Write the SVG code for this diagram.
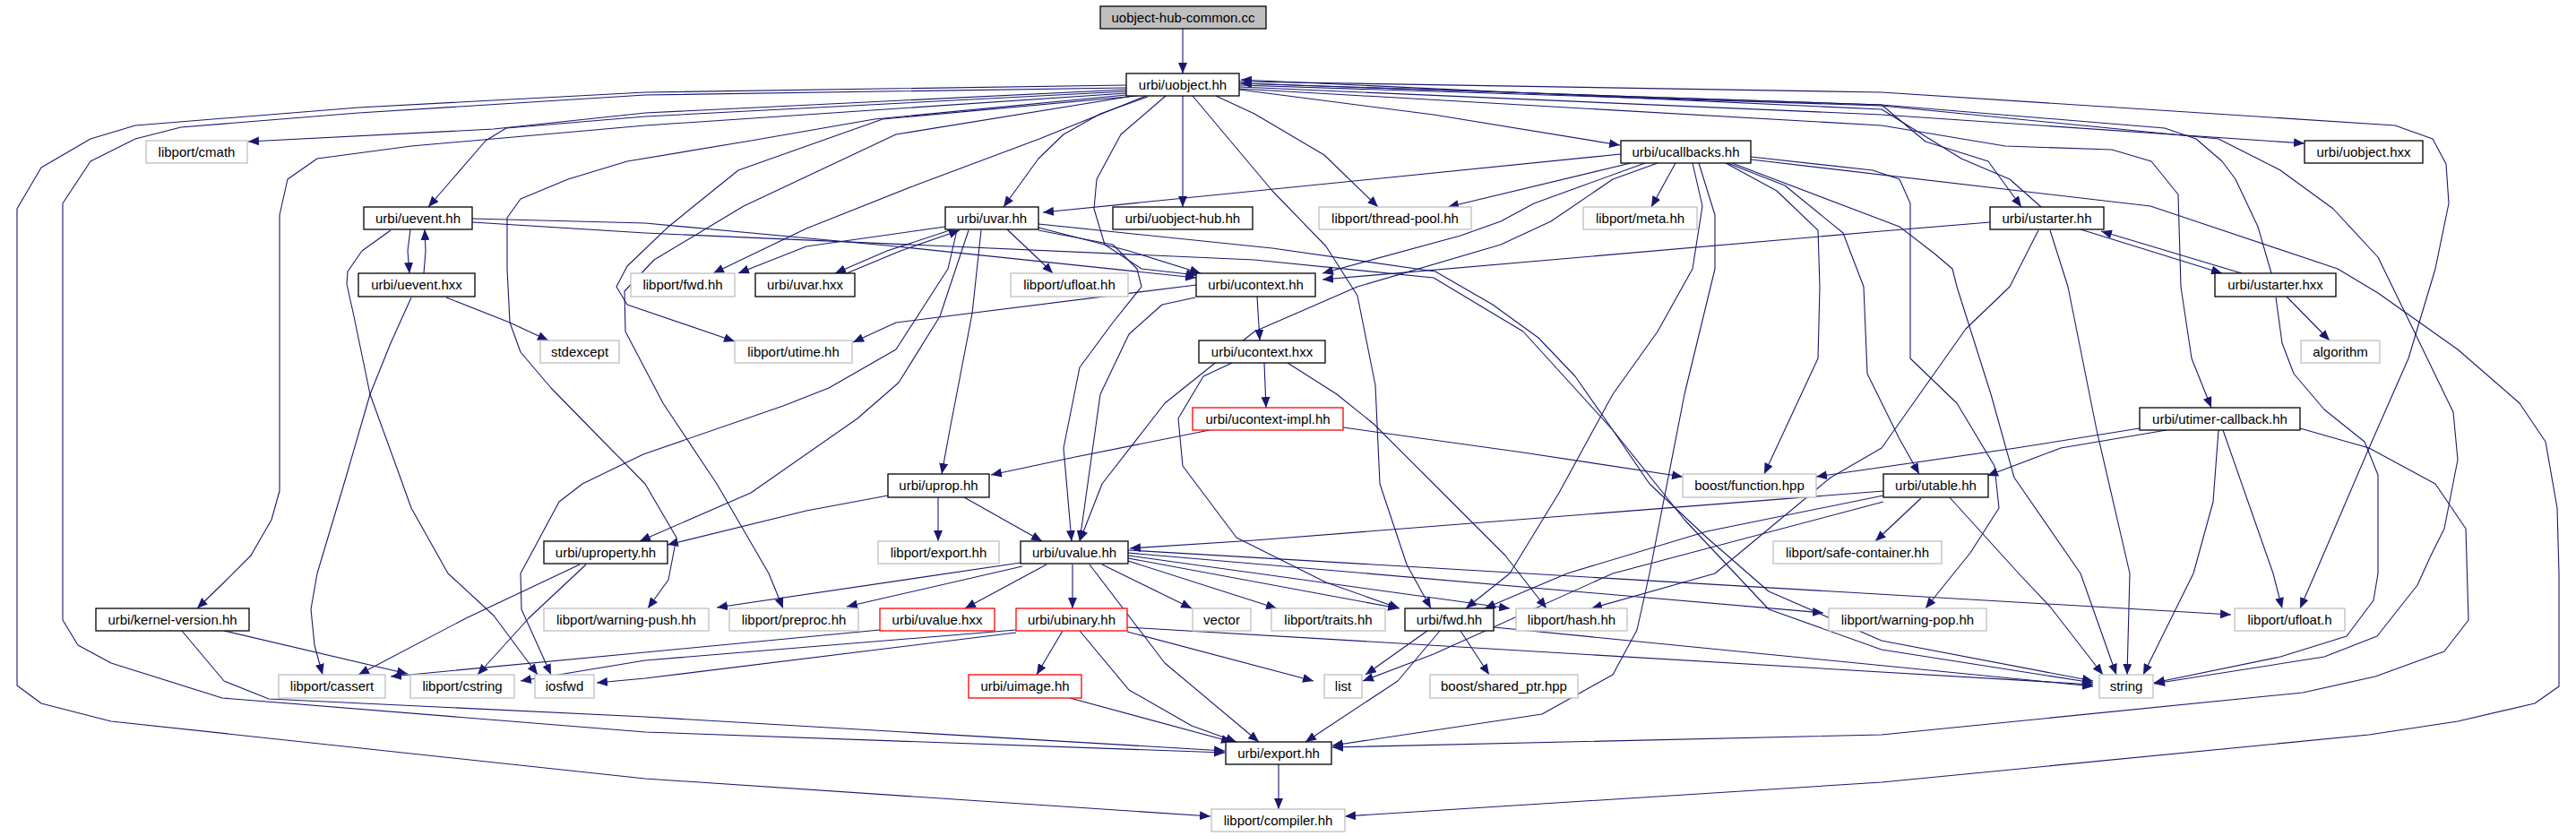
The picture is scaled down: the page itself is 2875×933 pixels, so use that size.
<svg xmlns="http://www.w3.org/2000/svg" width="2875" height="933" viewBox="0 0 2875 933">
<style>
.n rect{fill:#fff;stroke:#000;stroke-width:1.3}
.g rect{fill:#fff;stroke:#bfbfbf;stroke-width:1.3}
.r rect{fill:#fff;stroke:#ff0000;stroke-width:1.3}
.root rect{fill:#bfbfbf;stroke:#000;stroke-width:1.3}
text{font-family:"Liberation Sans",Arial,sans-serif;font-size:15px;fill:#000;text-anchor:middle}
#edges path{fill:none;stroke:#191970;stroke-width:1.1;stroke-linejoin:round;marker-end:url(#a)}
</style>
<defs>
<marker id="a" markerWidth="12" markerHeight="10" refX="12" refY="5" orient="auto" markerUnits="userSpaceOnUse"><path d="M0,0 L12,5 L0,10 z" fill="#191970"/></marker>
</defs>
<rect width="2875" height="933" fill="#fff"/>
<g id="edges">
<path d="M1320,32 L1320,82"/>
<path d="M1257,95 L720,103 L400,120 L151,140 L101,155 L46,187 L19,233 L19,765 L46,785 L124,805 L720,869 L1351,911"/>
<path d="M1257,98 L720,106 L400,126 L202,142 L151,155 L101,180 L70,227 L70,692 L87,720 L124,740 L248,779 L720,817 L1367,840"/>
<path d="M1257,100 L720,126 L551,144 L277,158"/>
<path d="M1257,102 L720,130 L565,143 L542,157 L478,231"/>
<path d="M1257,104 L720,140 L459,163 L354,177 L321,200 L312,240 L312,548 L303,580 L280,620 L250,650 L220,679"/>
<path d="M1257,106 L976,133 L838,157 L700,180 L634,200 L581,222 L566,243 L566,300 L569,360 L581,393 L615,433 L661,480 L720,540 L755,600 L746,647 L723,679"/>
<path d="M1269,107 L985,133 L824,190 L746,253 L700,297 L688,320 L700,340 L820,381"/>
<path d="M1265,107 L1000,150 L830,230 L730,290 L697,325 L698,370 L740,450 L800,540 L858,640 L874,679"/>
<path d="M1279,107 L1160,155 L1021,207 L900,255 L796,305"/>
<path d="M1281,108 L1228,127 L1187,150 L1159,177 L1120,231"/>
<path d="M1301,107 L1251,150 L1224,200 L1221,233 L1233,273 L1274,300 L1336,307"/>
<path d="M1320,107 L1320,231"/>
<path d="M1331,107 L1420,213 L1480,275 L1515,330 L1535,430 L1540,540 L1570,630 L1597,679"/>
<path d="M1357,107 L1400,127 L1478,173 L1538,231"/>
<path d="M1383,100 L1600,128 L1808,162"/>
<path d="M1383,97 L2100,128 L2572,160"/>
<path d="M1383,93 L2100,117 L2149,158 L2219,180 L2256,231"/>
<path d="M1383,99 L2100,140 L2238,163 L2357,167 L2401,180 L2431,217 L2434,320 L2446,400 L2468,455"/>
<path d="M1383,91 L2100,103 L2673,140 L2715,155 L2730,183 L2733,227 L2718,300 L2688,400 L2644,500 L2584,640 L2567,679"/>
<path d="M1383,95 L2100,118 L2476,155 L2545,190 L2604,233 L2654,287 L2693,367 L2738,460 L2743,513 L2728,590 L2713,620 L2698,653 L2653,710 L2594,733 L2404,763"/>
<path d="M458,256 L455,280 L457,305"/>
<path d="M473,305 L475,280 L474,256"/>
<path d="M527,244 L720,249 L1000,275 L1335,310"/>
<path d="M527,248 L720,260 L1400,290 L1600,310 L1700,370 L1800,480 L1880,580 L1974,680 L2100,725 L2336,762"/>
<path d="M436,257 L404,280 L388,303 L387,317 L395,353 L413,440 L441,517 L459,567 L500,640 L551,687 L600,753"/>
<path d="M498,332 L569,360 L612,380"/>
<path d="M459,332 L436,383 L413,440 L386,533 L354,640 L347,680 L351,720 L360,753"/>
<path d="M1055,253 L900,275 L824,305"/>
<path d="M1060,257 L990,280 L932,305"/>
<path d="M945,305 L1005,280 L1071,257"/>
<path d="M1124,256 L1160,290 L1175,305"/>
<path d="M1159,254 L1260,280 L1340,305"/>
<path d="M1095,257 L1085,350 L1060,480 L1051,529"/>
<path d="M1081,257 L1049,353 L1003,427 L957,467 L838,550 L714,604"/>
<path d="M1068,257 L1058,300 L1000,390 L925,433 L874,453 L718,507 L650,540 L624,560 L581,640 L582,680 L615,753"/>
<path d="M1159,257 L1242,273 L1269,300 L1274,320 L1242,360 L1205,410 L1187,500 L1196,604"/>
<path d="M1159,250 L1420,277 L1602,303 L1666,340 L1717,377 L1758,420 L1800,480 L1841,540 L1905,600 L1974,660 L2100,715 L2336,760"/>
<path d="M1403,331 L1406,380"/>
<path d="M1335,318 L1000,360 L952,382"/>
<path d="M1334,332 L1297,340 L1260,373 L1228,440 L1205,604"/>
<path d="M1375,405 L1343,420 L1315,467 L1320,520 L1380,600 L1480,650 L1562,679"/>
<path d="M1411,405 L1413,455"/>
<path d="M1437,405 L1492,440 L1533,473 L1600,540 L1680,620 L1726,679"/>
<path d="M1350,480 L1200,510 L1106,530"/>
<path d="M1499,477 L1700,505 L1878,532"/>
<path d="M991,553 L900,570 L745,608"/>
<path d="M1047,555 L1047,604"/>
<path d="M1076,555 L1163,604"/>
<path d="M647,630 L520,690 L400,753"/>
<path d="M654,630 L590,690 L533,753"/>
<path d="M1139,628 L800,678"/>
<path d="M1141,632 L945,677"/>
<path d="M1168,630 L1077,679"/>
<path d="M1197,630 L1197,679"/>
<path d="M1230,630 L1330,679"/>
<path d="M1259,626 L1425,679"/>
<path d="M1259,623 L1561,679"/>
<path d="M1259,620 L1685,679"/>
<path d="M1259,617 L2035,684"/>
<path d="M1259,614 L2490,686"/>
<path d="M1216,630 L1300,740 L1405,828"/>
<path d="M1186,704 L1157,753"/>
<path d="M1205,704 L1260,770 L1330,810 L1380,828"/>
<path d="M1134,703 L720,737 L581,760"/>
<path d="M1134,706 L720,757 L666,762"/>
<path d="M1258,705 L1466,760"/>
<path d="M1258,700 L2336,764"/>
<path d="M982,703 L720,728 L436,755"/>
<path d="M1194,779 L1375,828"/>
<path d="M1593,704 L1524,753"/>
<path d="M1630,704 L1662,753"/>
<path d="M1607,704 L1560,760 L1457,828"/>
<path d="M1667,700 L2336,766"/>
<path d="M1427,853 L1427,903"/>
<path d="M203,704 L250,760 L300,780 L720,800 L1367,838"/>
<path d="M250,704 L455,752"/>
<path d="M1809,172 L1164,237"/>
<path d="M1820,182 L1616,231"/>
<path d="M1870,182 L1843,231"/>
<path d="M1836,182 L1767,207 L1712,227 L1675,247 L1630,263 L1476,305"/>
<path d="M1850,182 L1800,200 L1731,247 L1675,273 L1515,320 L1400,370 L1300,450 L1230,540 L1205,604"/>
<path d="M1889,182 L1900,230 L1889,300 L1850,370 L1800,440 L1740,550 L1685,640 L1636,679"/>
<path d="M1896,182 L1914,240 L1914,300 L1880,440 L1841,640 L1827,703 L1800,753 L1721,797 L1487,832"/>
<path d="M1926,182 L1983,213 L2029,257 L2031,320 L2029,400 L1969,529"/>
<path d="M1928,182 L1992,207 L2057,260 L2080,320 L2084,417 L2120,490 L2142,529"/>
<path d="M1933,182 L2120,253 L2159,283 L2179,300 L2184,320 L2222,440 L2248,533 L2322,640 L2362,753"/>
<path d="M1954,175 L2090,190 L2120,200 L2132,227 L2132,400 L2184,450 L2226,520 L2231,567 L2199,617 L2149,679"/>
<path d="M1954,178 L2400,230 L2609,300 L2654,327 L2743,390 L2812,450 L2841,493 L2854,567 L2856,640 L2856,766 L2829,785 L2743,805 L2644,820 L2100,873 L1501,911"/>
<path d="M2278,231 L2243,200 L2189,177 L2100,122 L1385,89"/>
<path d="M2221,248 L2100,258 L1476,312"/>
<path d="M2322,256 L2480,305"/>
<path d="M2502,305 L2345,258"/>
<path d="M2288,257 L2308,320 L2340,480 L2377,640 L2374,753"/>
<path d="M2275,257 L2243,320 L2194,367 L2100,500 L2043,533 L1914,640 L1776,679"/>
<path d="M2552,331 L2600,380"/>
<path d="M2535,305 L2520,253 L2495,200 L2480,180 L2451,155 L2416,143 L2100,117 L1385,93"/>
<path d="M2540,332 L2547,383 L2560,417 L2594,457 L2639,493 L2654,530 L2654,640 L2649,670 L2619,710 L2545,733 L2404,762"/>
<path d="M2388,478 L2250,500 L2027,532"/>
<path d="M2418,480 L2300,500 L2218,531"/>
<path d="M2476,480 L2470,560 L2448,640 L2392,753"/>
<path d="M2481,480 L2537,640 L2547,679"/>
<path d="M2567,478 L2644,500 L2718,540 L2752,590 L2755,692 L2728,727 L2651,755 L2570,773 L2100,820 L1487,834"/>
<path d="M2102,548 L1400,603 L1261,612"/>
<path d="M2144,556 L2093,604"/>
<path d="M2102,553 L1905,593 L1749,640 L1657,679"/>
<path d="M2174,553 L2253,640 L2288,677 L2347,753"/>
<path d="M2102,560 L1800,640 L1600,730 L1521,760"/>
</g>
<g id="n-root" class="root"><rect x="1228" y="7" width="185" height="25"/><text x="1320.5" y="25">uobject-hub-common.cc</text></g>
<g id="n-uobject" class="n"><rect x="1257" y="82" width="126" height="25"/><text x="1320" y="100">urbi/uobject.hh</text></g>
<g id="n-cmath" class="g"><rect x="163" y="157" width="113" height="25"/><text x="219.5" y="175">libport/cmath</text></g>
<g id="n-ucallbacks" class="n"><rect x="1809" y="157" width="145" height="25"/><text x="1881.5" y="175">urbi/ucallbacks.hh</text></g>
<g id="n-uobjhxx" class="n"><rect x="2572" y="157" width="132" height="25"/><text x="2638" y="175">urbi/uobject.hxx</text></g>
<g id="n-uevent" class="n"><rect x="406" y="231" width="121" height="25"/><text x="466.5" y="249">urbi/uevent.hh</text></g>
<g id="n-uvar" class="n"><rect x="1055" y="231" width="104" height="25"/><text x="1107" y="249">urbi/uvar.hh</text></g>
<g id="n-uobjhub" class="n"><rect x="1242" y="231" width="156" height="25"/><text x="1320" y="249">urbi/uobject-hub.hh</text></g>
<g id="n-threadpool" class="g"><rect x="1472" y="231" width="170" height="25"/><text x="1557" y="249">libport/thread-pool.hh</text></g>
<g id="n-meta" class="g"><rect x="1767" y="231" width="127" height="25"/><text x="1830.5" y="249">libport/meta.hh</text></g>
<g id="n-ustarter" class="n"><rect x="2221" y="231" width="127" height="25"/><text x="2284.5" y="249">urbi/ustarter.hh</text></g>
<g id="n-ueventhxx" class="n"><rect x="400" y="305" width="130" height="26"/><text x="465" y="323">urbi/uevent.hxx</text></g>
<g id="n-lfwd" class="g"><rect x="704" y="305" width="116" height="26"/><text x="762" y="323">libport/fwd.hh</text></g>
<g id="n-uvarhxx" class="n"><rect x="843" y="305" width="111" height="26"/><text x="898.5" y="323">urbi/uvar.hxx</text></g>
<g id="n-ufloathh" class="g"><rect x="1128" y="305" width="131" height="26"/><text x="1193.5" y="323">libport/ufloat.hh</text></g>
<g id="n-ucontext" class="n"><rect x="1335" y="305" width="133" height="26"/><text x="1401.5" y="323">urbi/ucontext.hh</text></g>
<g id="n-ustarterhxx" class="n"><rect x="2472" y="305" width="135" height="26"/><text x="2539.5" y="323">urbi/ustarter.hxx</text></g>
<g id="n-stdexcept" class="g"><rect x="603" y="380" width="88" height="25"/><text x="647" y="398">stdexcept</text></g>
<g id="n-utime" class="g"><rect x="820" y="380" width="131" height="25"/><text x="885.5" y="398">libport/utime.hh</text></g>
<g id="n-ucontexthxx" class="n"><rect x="1338" y="380" width="141" height="25"/><text x="1408.5" y="398">urbi/ucontext.hxx</text></g>
<g id="n-algorithm" class="g"><rect x="2568" y="380" width="88" height="25"/><text x="2612" y="398">algorithm</text></g>
<g id="n-ucimpl" class="r"><rect x="1331" y="455" width="168" height="25"/><text x="1415" y="473">urbi/ucontext-impl.hh</text></g>
<g id="n-utimercb" class="n"><rect x="2388" y="455" width="179" height="25"/><text x="2477.5" y="473">urbi/utimer-callback.hh</text></g>
<g id="n-uprop" class="n"><rect x="991" y="529" width="113" height="26"/><text x="1047.5" y="547">urbi/uprop.hh</text></g>
<g id="n-function" class="g"><rect x="1878" y="529" width="149" height="26"/><text x="1952.5" y="547">boost/function.hpp</text></g>
<g id="n-utable" class="n"><rect x="2102" y="529" width="117" height="26"/><text x="2160.5" y="547">urbi/utable.hh</text></g>
<g id="n-uproperty" class="n"><rect x="607" y="604" width="138" height="25"/><text x="676" y="622">urbi/uproperty.hh</text></g>
<g id="n-lexport" class="g"><rect x="980" y="604" width="135" height="25"/><text x="1047.5" y="622">libport/export.hh</text></g>
<g id="n-uvalue" class="n"><rect x="1139" y="604" width="120" height="25"/><text x="1199" y="622">urbi/uvalue.hh</text></g>
<g id="n-safecont" class="g"><rect x="1979" y="604" width="188" height="25"/><text x="2073" y="622">libport/safe-container.hh</text></g>
<g id="n-kernel" class="n"><rect x="107" y="679" width="171" height="25"/><text x="192.5" y="697">urbi/kernel-version.hh</text></g>
<g id="n-wpush" class="g"><rect x="607" y="679" width="184" height="25"/><text x="699" y="697">libport/warning-push.hh</text></g>
<g id="n-preproc" class="g"><rect x="814" y="679" width="144" height="25"/><text x="886" y="697">libport/preproc.hh</text></g>
<g id="n-uvaluehxx" class="r"><rect x="982" y="679" width="128" height="25"/><text x="1046" y="697">urbi/uvalue.hxx</text></g>
<g id="n-ubinary" class="r"><rect x="1134" y="679" width="124" height="25"/><text x="1196" y="697">urbi/ubinary.hh</text></g>
<g id="n-vector" class="g"><rect x="1331" y="679" width="65" height="25"/><text x="1363.5" y="697">vector</text></g>
<g id="n-traits" class="g"><rect x="1419" y="679" width="127" height="25"/><text x="1482.5" y="697">libport/traits.hh</text></g>
<g id="n-ufwd" class="n"><rect x="1568" y="679" width="99" height="25"/><text x="1617.5" y="697">urbi/fwd.hh</text></g>
<g id="n-hash" class="g"><rect x="1692" y="679" width="124" height="25"/><text x="1754" y="697">libport/hash.hh</text></g>
<g id="n-wpop" class="g"><rect x="2041" y="679" width="176" height="25"/><text x="2129" y="697">libport/warning-pop.hh</text></g>
<g id="n-ufloath" class="g"><rect x="2494" y="679" width="123" height="25"/><text x="2555.5" y="697">libport/ufloat.h</text></g>
<g id="n-cassert" class="g"><rect x="311" y="753" width="119" height="26"/><text x="370.5" y="771">libport/cassert</text></g>
<g id="n-cstring" class="g"><rect x="458" y="753" width="116" height="26"/><text x="516" y="771">libport/cstring</text></g>
<g id="n-iosfwd" class="g"><rect x="597" y="753" width="66" height="26"/><text x="630" y="771">iosfwd</text></g>
<g id="n-uimage" class="r"><rect x="1081" y="753" width="126" height="26"/><text x="1144" y="771">urbi/uimage.hh</text></g>
<g id="n-list" class="g"><rect x="1478" y="753" width="42" height="26"/><text x="1499" y="771">list</text></g>
<g id="n-sharedptr" class="g"><rect x="1596" y="753" width="165" height="26"/><text x="1678.5" y="771">boost/shared_ptr.hpp</text></g>
<g id="n-string" class="g"><rect x="2343" y="753" width="60" height="26"/><text x="2373" y="771">string</text></g>
<g id="n-export" class="n"><rect x="1368" y="828" width="118" height="25"/><text x="1427" y="846">urbi/export.hh</text></g>
<g id="n-compiler" class="g"><rect x="1352" y="903" width="149" height="25"/><text x="1426.5" y="921">libport/compiler.hh</text></g>
</svg>
